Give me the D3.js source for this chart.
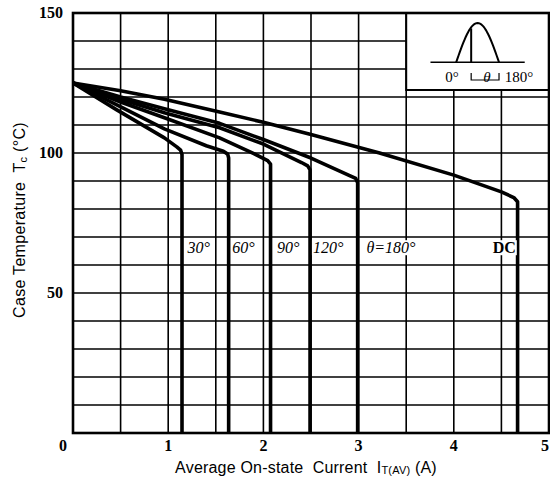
<!DOCTYPE html>
<html>
<head>
<meta charset="utf-8">
<script src="https://cdn.jsdelivr.net/npm/d3@7"></script>
<style>
  body { margin: 0; background: #fff; }
  svg { display: block; }
  .pre { white-space: pre; }
</style>
</head>
<body>
<svg id="chart" width="550" height="485"></svg>
<script>
// Derating curves: case temperature (°C) versus average on-state current (A)
const xTicks = [0, 1, 2, 3, 4, 5];
const yTicks = [0, 50, 100, 150];
const curveLabels = ["30°", "60°", "90°", "120°", "θ=180°", "DC"];

const curve30 = [[0, 125], [0.46, 115.4], [0.96, 105.4], [1.09, 102.2], [1.13, 101], [1.145, 99.5], [1.145, 0]];
const curve60 = [[0, 125], [0.46, 117.2], [0.96, 108.6], [1.4, 102.6], [1.58, 100.6], [1.625, 99.6], [1.635, 98.2], [1.635, 0]];
const curve90 = [[0, 125], [0.5, 118.2], [0.96, 112.6], [1.54, 105.4], [1.9, 99.8], [2.045, 97.3], [2.075, 96], [2.075, 0]];
const curve120 = [[0, 125], [0.5, 119.2], [0.96, 114.4], [1.54, 109], [2.0, 103.2], [2.4, 96.6], [2.465, 95.4], [2.49, 94], [2.49, 0]];
const curve180 = [[0, 125], [0.5, 120], [0.96, 115.8], [1.54, 110.6], [2.0, 104.8], [2.5, 98.2], [2.9, 92], [2.97, 90.9], [2.99, 89.4], [2.99, 0]];
const curveDC = [[0, 125], [0.5, 122.2], [0.96, 119.2], [1.54, 114.6], [2.0, 111], [2.5, 106.6], [3.22, 100], [4.0, 92.1], [4.5, 86.1], [4.63, 84.1], [4.67, 82.6], [4.67, 0]];

const series = [curve30, curve60, curve90, curve120, curve180, curveDC];
// label anchor for each curve, in data units (current, temperature)
const labelAt = [[1.32, 66], [1.79, 66], [2.26, 66], [2.68, 66], [3.34, 66], [4.53, 66]];

const svg = d3.select("#chart");
const x = d3.scaleLinear().domain([0, 5]).range([73, 549]);
const y = d3.scaleLinear().domain([0, 150]).range([433, 13]);

const serif = "'Liberation Serif', 'DejaVu Serif', serif";
const sans = "'Liberation Sans', Arial, sans-serif";

// grid
const g = svg.append("g");
g.selectAll("line.v").data(d3.range(0, 5.01, 0.5)).join("line")
  .attr("x1", d => x(d)).attr("x2", d => x(d))
  .attr("y1", y(0)).attr("y2", y(150))
  .attr("stroke", "#000").attr("stroke-width", 1.6);
g.selectAll("line.h").data(d3.range(0, 150.1, 10)).join("line")
  .attr("x1", x(0)).attr("x2", x(5))
  .attr("y1", d => y(d)).attr("y2", d => y(d))
  .attr("stroke", "#000").attr("stroke-width", 1.6);

// inset panel showing the conduction waveform
const ix0 = x(3.5), ix1 = x(5), iy0 = y(150), iy1 = y(122.5);
const iw = ix1 - ix0, ih = iy1 - iy0;
const inset = svg.append("g");
inset.append("rect").attr("x", ix0).attr("y", iy0).attr("width", iw).attr("height", ih)
  .attr("fill", "#fff").attr("stroke", "#000").attr("stroke-width", 2);
const bx = f => ix0 + f * iw, by = f => iy0 + f * ih;
inset.append("line").attr("x1", bx(0.17)).attr("x2", bx(0.83)).attr("y1", by(0.64)).attr("y2", by(0.64))
  .attr("stroke", "#000").attr("stroke-width", 1.5);
const wave = d3.range(0, 181, 5).map(a => [bx(0.35 + 0.3 * a / 180), by(0.64 - 0.51 * Math.sin(a * Math.PI / 180))]);
inset.append("path").attr("d", d3.line()(wave)).attr("fill", "none").attr("stroke", "#000").attr("stroke-width", 2);
inset.append("line").attr("x1", bx(0.455)).attr("x2", bx(0.455)).attr("y1", by(0.64)).attr("y2", by(0.2))
  .attr("stroke", "#000").attr("stroke-width", 2);
inset.append("path")
  .attr("d", `M${bx(0.455)},${by(0.78)}V${by(0.87)}H${bx(0.65)}V${by(0.78)}`)
  .attr("fill", "none").attr("stroke", "#000").attr("stroke-width", 1.2);
inset.append("text").attr("x", bx(0.32)).attr("y", by(0.9)).attr("text-anchor", "middle")
  .attr("font-family", serif).attr("font-size", 15).text("0°");
inset.append("text").attr("x", bx(0.565)).attr("y", by(0.9)).attr("text-anchor", "middle")
  .attr("font-family", serif).attr("font-style", "italic").attr("font-size", 15).text("θ");
inset.append("text").attr("x", bx(0.69)).attr("y", by(0.9)).attr("text-anchor", "start")
  .attr("font-family", serif).attr("font-size", 15).text("180°");

// frame
svg.append("rect").attr("x", x(0)).attr("y", y(150)).attr("width", x(5) - x(0)).attr("height", y(0) - y(150))
  .attr("fill", "none").attr("stroke", "#000").attr("stroke-width", 2.6);

// curves
const line = d3.line().x(d => x(d[0])).y(d => y(d[1]));
svg.append("g").selectAll("path").data(series).join("path")
  .attr("d", line).attr("fill", "none").attr("stroke", "#000")
  .attr("stroke-width", 3.6).attr("stroke-linejoin", "round");

// curve labels with white backing
const lab = svg.append("g");
curveLabels.forEach((t, i) => {
  const isDC = t === "DC";
  const txt = lab.append("text")
    .attr("x", x(labelAt[i][0])).attr("y", y(labelAt[i][1]) + 5)
    .attr("text-anchor", "middle")
    .attr("font-family", serif).attr("font-size", 16)
    .attr("font-style", isDC ? "normal" : "italic")
    .attr("font-weight", isDC ? "bold" : "normal")
    .text(t);
  const b = txt.node().getBBox();
  lab.insert("rect", "text").attr("x", b.x - 1).attr("y", b.y + 1).attr("width", b.width + 2).attr("height", b.height - 2)
    .attr("fill", "#fff");
});

// tick labels
const ticks = svg.append("g").attr("font-family", serif).attr("font-weight", "bold").attr("font-size", 16);
ticks.selectAll("text.y").data(yTicks.filter(d => d > 0)).join("text")
  .attr("x", 63).attr("y", d => y(d) + 5).attr("text-anchor", "end").text(d => d);
ticks.selectAll("text.x").data(xTicks).join("text")
  .attr("x", d => d === 0 ? 63 : d === 5 ? 549 : x(d)).attr("y", 451)
  .attr("text-anchor", d => d === 5 ? "end" : "middle").text(d => d);

// axis titles
const yt = svg.append("text").attr("class", "pre").attr("transform", "translate(25,220) rotate(-90)")
  .attr("text-anchor", "middle").attr("font-family", sans).attr("font-size", 16).attr("letter-spacing", 0.3);
yt.append("tspan").text("Case Temperature  T");
yt.append("tspan").attr("font-size", 11).attr("dy", 2).text("c");
yt.append("tspan").attr("dy", -2).text(" (°C)");

const xt = svg.append("text").attr("class", "pre").attr("x", 306).attr("y", 473)
  .attr("text-anchor", "middle").attr("font-family", sans).attr("font-size", 16).attr("letter-spacing", 0.2);
xt.append("tspan").text("Average On-state  Current  I");
xt.append("tspan").attr("font-size", 11).attr("dy", 1).text("T(AV)");
xt.append("tspan").attr("dy", -1).text(" (A)");
</script>
</body>
</html>
